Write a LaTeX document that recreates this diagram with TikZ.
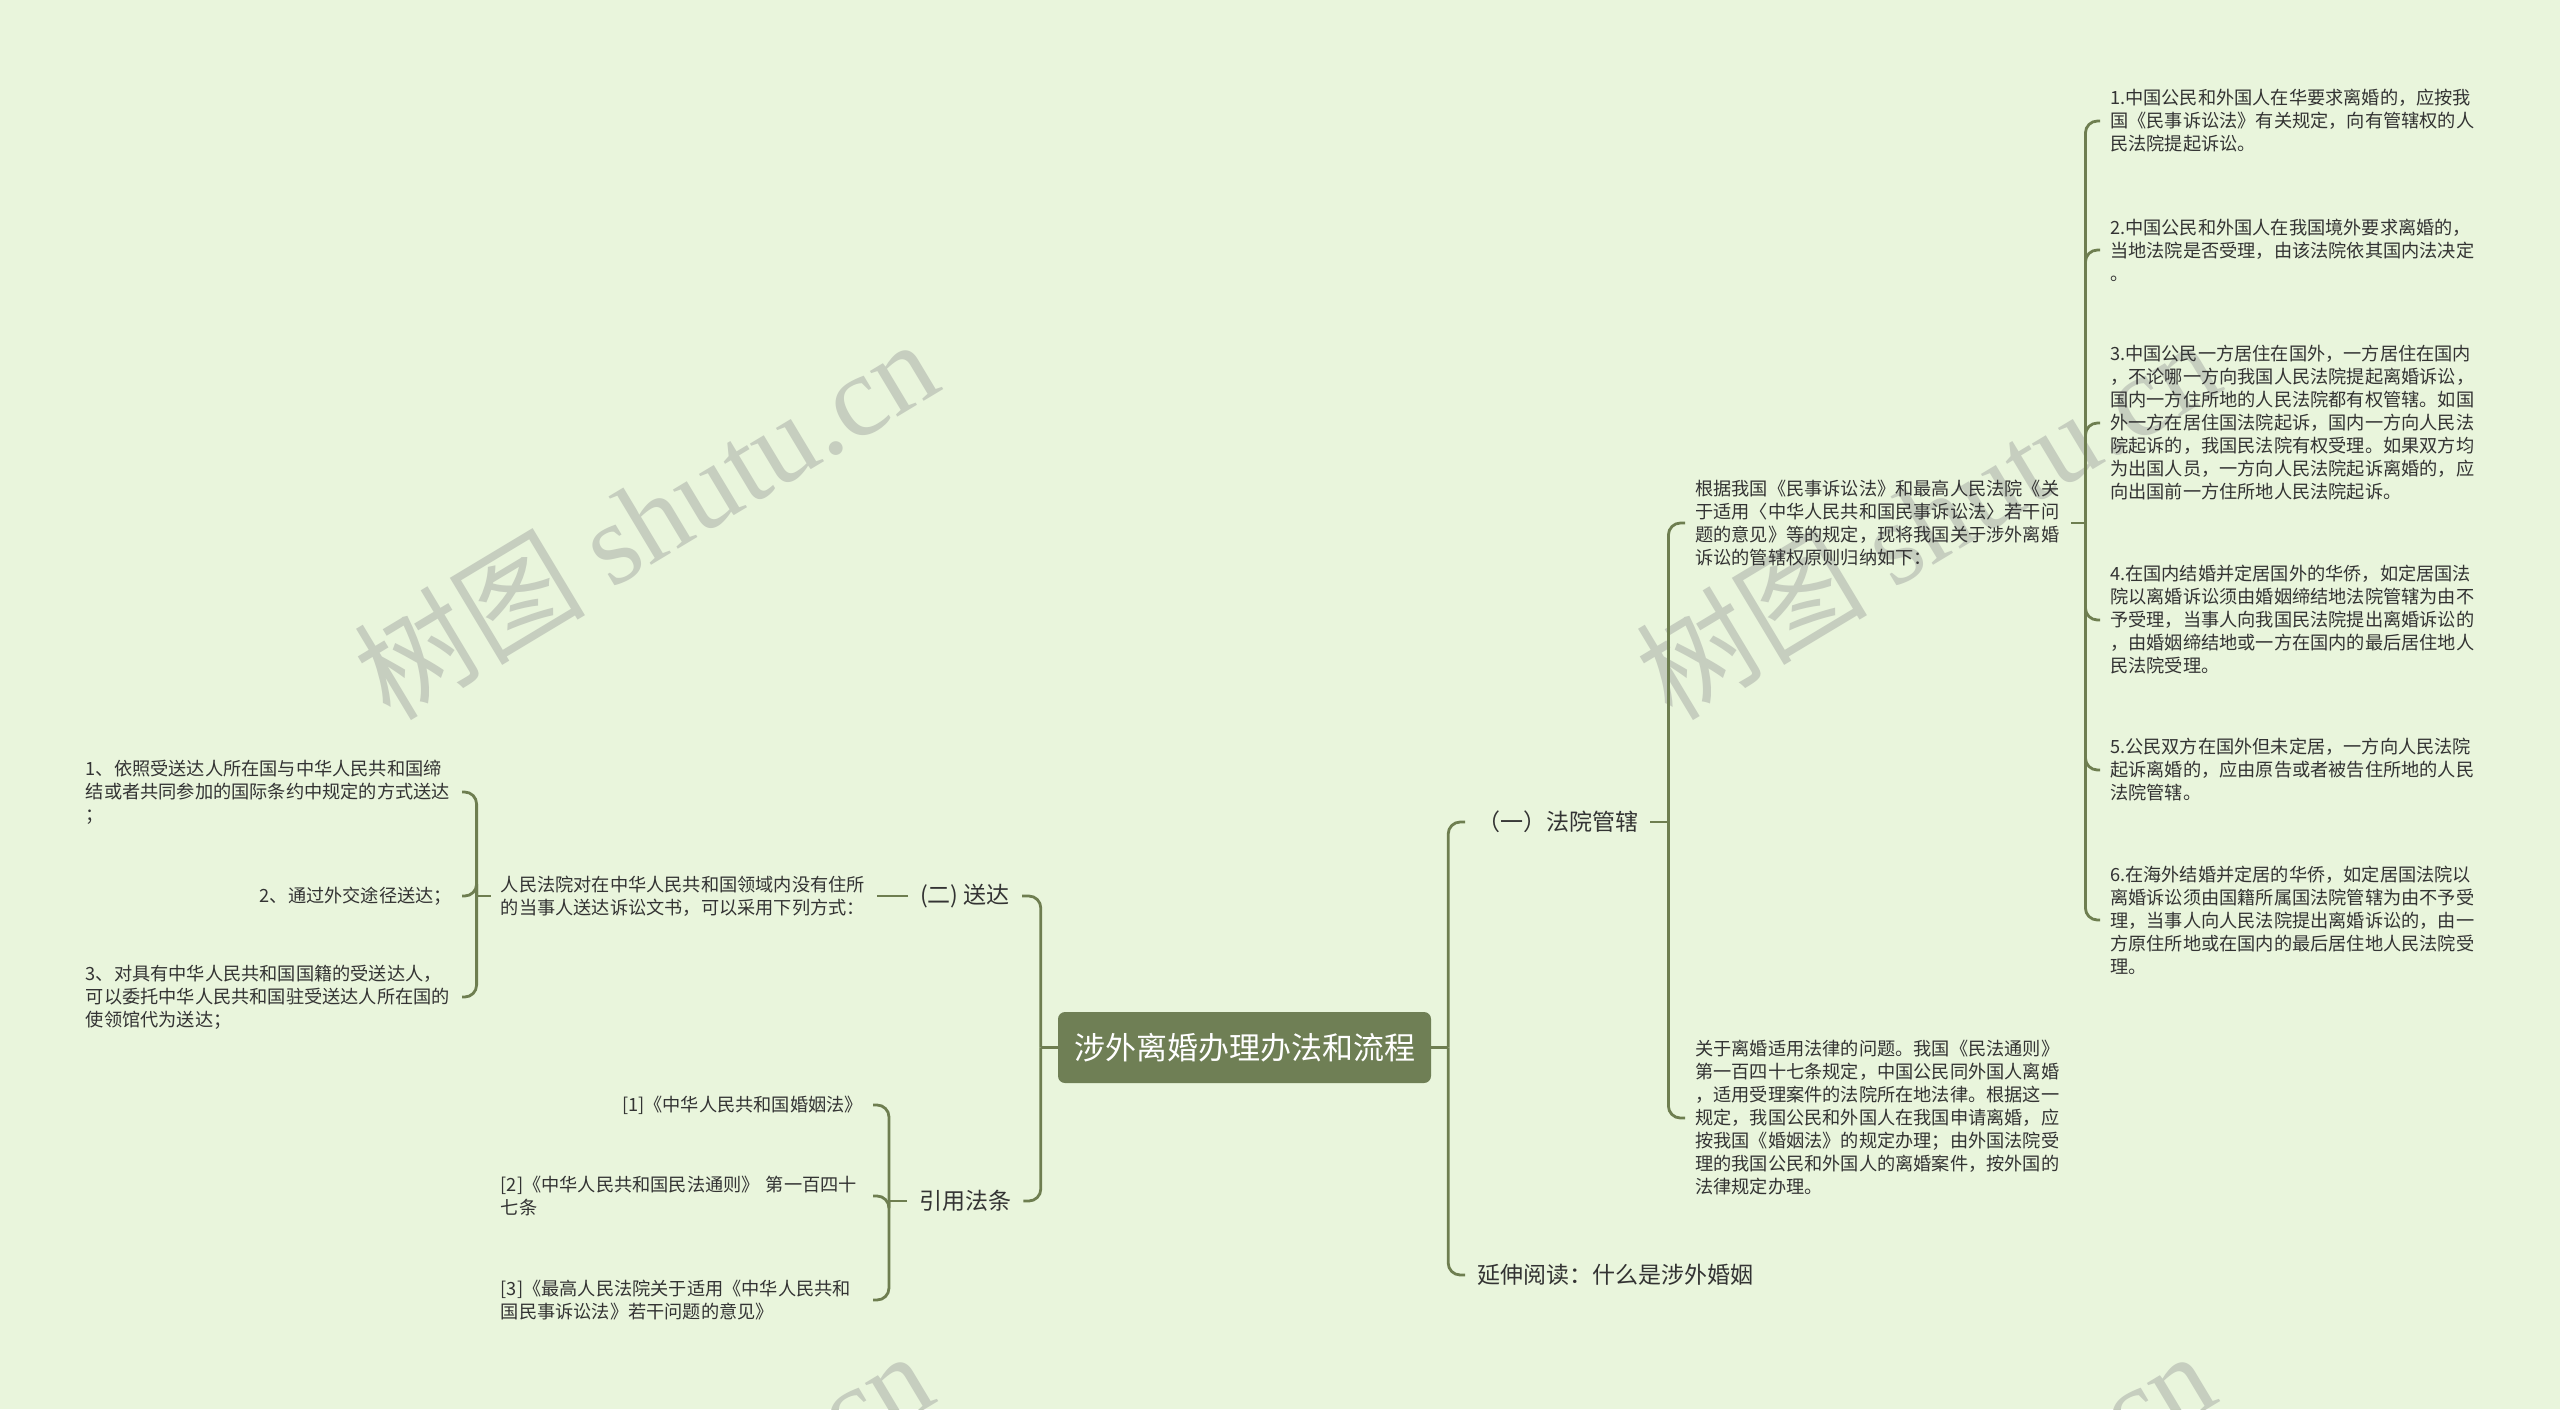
\documentclass[tikz,border=0pt]{standalone}
\usepackage{fontspec}
\setmainfont{Noto Sans CJK SC}
\newfontfamily\markfont{Liberation Serif}
\usepackage{xcolor}
\definecolor{mapbg}{HTML}{E9F5DC}
\definecolor{mapline}{HTML}{6E7E50}
\definecolor{rootgreen}{HTML}{6F7F55}
\definecolor{mapink}{HTML}{333333}
\definecolor{markgray}{HTML}{C6CEBF}
\newcommand{\bodysize}{\fontsize{18.2}{23}\selectfont}
\newcommand{\topicsize}{\fontsize{23}{28}\selectfont}

\begin{document}
\begin{tikzpicture}[x=1pt, y=-1pt,
    link/.style={draw=mapline, line width=2.8pt, rounded corners=12pt},
    topic/.style={font=\topicsize, text=mapink, inner xsep=12pt, inner ysep=4pt},
    para/.style={font=\bodysize, text=mapink, align=left, inner xsep=10pt, inner ysep=3pt},
    wide/.style={para, text width=366pt},
    wmark/.style={font=\fontsize{116}{120}\selectfont, text=markgray, rotate=31}]
  % background and page size
  \fill[mapbg] (0,0) rectangle (2560,1409);
  \useasboundingbox (0,0) rectangle (2560,1409);
  \clip (0,0) rectangle (2560,1409);

  % watermarks
  \foreach \mx/\my [count=\i] in {645/518, 1927/518, 640/1530, 1922/1530}
    \node[wmark] (wm\i) at (\mx,\my) {树图 {\markfont shutu.cn}};

  % centre
  \node[fill=rootgreen, rounded corners=7pt, text=white, minimum width=373pt,
        minimum height=71pt, inner sep=0pt, font=\fontsize{31}{36}\selectfont]
        (root) at (1244.5,1047.5) {涉外离婚办理办法和流程};

  % right side
  \node[topic, anchor=west] (court) at (1465,822) {（一）法院管辖};
  \node[topic, anchor=west] (more) at (1465,1275) {延伸阅读：什么是涉外婚姻};

  \node[wide, anchor=west] (basis) at (1685,523) {根据我国《民事诉讼法》和最高人民法院《关\\于适用〈中华人民共和国民事诉讼法〉若干问\\题的意见》等的规定，现将我国关于涉外离婚\\诉讼的管辖权原则归纳如下：};
  \node[wide, anchor=west] (lawuse) at (1685,1118) {关于离婚适用法律的问题。我国《民法通则》\\第一百四十七条规定，中国公民同外国人离婚\\，适用受理案件的法院所在地法律。根据这一\\规定，我国公民和外国人在我国申请离婚，应\\按我国《婚姻法》的规定办理；由外国法院受\\理的我国公民和外国人的离婚案件，按外国的\\法律规定办理。};

  \node[wide, anchor=west] (rule1) at (2100,121) {1.中国公民和外国人在华要求离婚的，应按我\\国《民事诉讼法》有关规定，向有管辖权的人\\民法院提起诉讼。};
  \node[wide, anchor=west] (rule2) at (2100,250) {2.中国公民和外国人在我国境外要求离婚的，\\当地法院是否受理，由该法院依其国内法决定\\。};
  \node[wide, anchor=west] (rule3) at (2100,423) {3.中国公民一方居住在国外，一方居住在国内\\，不论哪一方向我国人民法院提起离婚诉讼，\\国内一方住所地的人民法院都有权管辖。如国\\外一方在居住国法院起诉，国内一方向人民法\\院起诉的，我国民法院有权受理。如果双方均\\为出国人员，一方向人民法院起诉离婚的，应\\向出国前一方住所地人民法院起诉。};
  \node[wide, anchor=west] (rule4) at (2100,620) {4.在国内结婚并定居国外的华侨，如定居国法\\院以离婚诉讼须由婚姻缔结地法院管辖为由不\\予受理，当事人向我国民法院提出离婚诉讼的\\，由婚姻缔结地或一方在国内的最后居住地人\\民法院受理。};
  \node[wide, anchor=west] (rule5) at (2100,770) {5.公民双方在国外但未定居，一方向人民法院\\起诉离婚的，应由原告或者被告住所地的人民\\法院管辖。};
  \node[wide, anchor=west] (rule6) at (2100,920) {6.在海外结婚并定居的华侨，如定居国法院以\\离婚诉讼须由国籍所属国法院管辖为由不予受\\理，当事人向人民法院提出离婚诉讼的，由一\\方原住所地或在国内的最后居住地人民法院受\\理。};

  % left side
  \node[topic, anchor=west] (serve) at (908,896) {(二) 送达};
  \node[topic, anchor=west] (laws) at (907,1201) {引用法条};

  \node[wide, anchor=east] (serveinfo) at (877,896) {人民法院对在中华人民共和国领域内没有住所\\的当事人送达诉讼文书，可以采用下列方式：};
  \node[wide, anchor=east] (way1) at (462,792) {1、依照受送达人所在国与中华人民共和国缔\\结或者共同参加的国际条约中规定的方式送达\\；};
  \node[para, anchor=east] (way2) at (462,896) {2、通过外交途径送达；};
  \node[wide, anchor=east] (way3) at (462,997) {3、对具有中华人民共和国国籍的受送达人，\\可以委托中华人民共和国驻受送达人所在国的\\使领馆代为送达；};

  \node[para, anchor=east] (ref1) at (873,1105) {[1]《中华人民共和国婚姻法》};
  \node[para, text width=362pt, anchor=east] (ref2) at (873,1196) {[2]《中华人民共和国民法通则》~第一百四十\\七条};
  \node[para, text width=362pt, anchor=east] (ref3) at (873,1300) {[3]《最高人民法院关于适用《中华人民共和\\国民事诉讼法》若干问题的意见》};

  % junctions
  \coordinate (jr) at ([xshift=17pt]root.east);
  \coordinate (jl) at ([xshift=-17pt]root.west);
  \coordinate (jf) at ([xshift=18pt]court.east);
  \coordinate (ja) at ([xshift=14pt]basis.east);
  \coordinate (jc) at ([xshift=-14pt]serveinfo.west);
  \coordinate (jy) at ([xshift=-18pt]laws.west);

  % connectors
  \draw[link] (root.east) -- (jr);
  \draw[link] (jr) |- (court.west);
  \draw[link] (jr) |- (more.west);

  \draw[link] (court.east) -- (jf);
  \draw[link] (jf) |- (basis.west);
  \draw[link] (jf) |- (lawuse.west);

  \draw[link] (basis.east) -- (ja);
  \foreach \r in {rule1, rule2, rule3, rule4, rule5, rule6}
    \draw[link] (ja) |- (\r.west);

  \draw[link] (root.west) -- (jl);
  \draw[link] (jl) |- (serve.east);
  \draw[link] (jl) |- (laws.east);

  \draw[link] (serve.west) -- (serveinfo.east);
  \draw[link] (serveinfo.west) -- (jc);
  \foreach \w in {way1, way2, way3}
    \draw[link] (jc) |- (\w.east);

  \draw[link] (laws.west) -- (jy);
  \foreach \f in {ref1, ref2, ref3}
    \draw[link] (jy) |- (\f.east);
\end{tikzpicture}
\end{document}
